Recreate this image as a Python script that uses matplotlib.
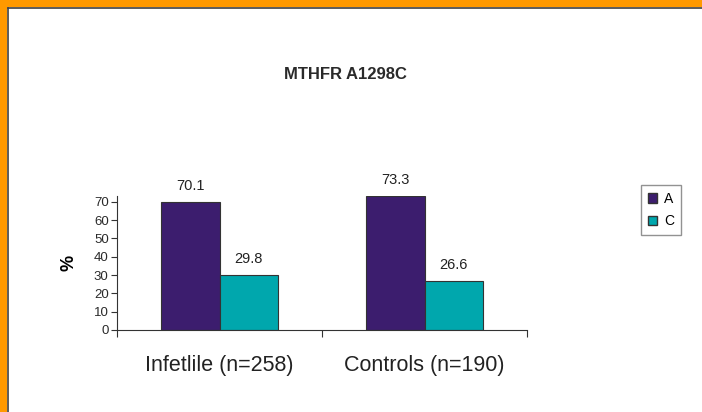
import matplotlib
matplotlib.use('Agg')
import matplotlib.pyplot as plt
from matplotlib.patches import Rectangle, Patch
import numpy as np

plt.rcParams['font.family'] = ['Liberation Sans', 'DejaVu Sans']

grupos = ['Infetlile (n=258)', 'Controls (n=190)']
alelos = ['A', 'C']
valores_A = [70.1, 73.3]
valores_C = [29.8, 26.6]
cores = ['#3c1d6e', '#00a7ad']

fig = plt.figure(figsize=(7.02, 4.12), dpi=100)

# moldura laranja em cima e à esquerda, com linha escura por dentro
fig.patches.append(Rectangle((0, 1 - 7 / 412), 1, 7 / 412, transform=fig.transFigure,
                             facecolor='#ff9900', edgecolor='none', zorder=0))
fig.patches.append(Rectangle((0, 0), 7 / 702, 1, transform=fig.transFigure,
                             facecolor='#ff9900', edgecolor='none', zorder=0))
fig.add_artist(plt.Line2D([7.5 / 702, 1], [1 - 7.5 / 412, 1 - 7.5 / 412],
                          transform=fig.transFigure, color='#404040', lw=1.2))
fig.add_artist(plt.Line2D([7.5 / 702, 7.5 / 702], [0, 1 - 7.5 / 412],
                          transform=fig.transFigure, color='#404040', lw=1.2))

ax = fig.add_axes([117 / 702, 1 - 330 / 412, (527 - 117) / 702, (330 - 196) / 412])

x = np.arange(len(grupos))
largura = 0.285
barras_A = ax.bar(x - largura / 2, valores_A, largura, color=cores[0],
                  edgecolor='#333333', linewidth=0.8, label=alelos[0])
barras_C = ax.bar(x + largura / 2, valores_C, largura, color=cores[1],
                  edgecolor='#333333', linewidth=0.8, label=alelos[1])

for barras in (barras_A, barras_C):
    for b in barras:
        ax.annotate(f'{b.get_height():.1f}', (b.get_x() + b.get_width() / 2, b.get_height()),
                    xytext=(0, 6.5), textcoords='offset points', ha='center', va='bottom',
                    fontsize=10.5, color='#222222')

ax.set_xlim(-0.5, 1.5)
ax.set_ylim(0, 73.2)
ax.set_yticks(range(0, 71, 10))
ax.tick_params(axis='y', labelsize=9.5, length=4, width=0.8, color='#333333',
               labelcolor='#2a2a2a', pad=2)

# marcas do eixo x nas divisões entre grupos, rótulos no centro
ax.set_xticks([-0.5, 0.5, 1.5])
ax.set_xticklabels([])
ax.set_xticks(x, minor=True)
ax.set_xticklabels(grupos, minor=True)
ax.tick_params(axis='x', which='major', length=5, width=0.8, color='#333333', direction='out')
ax.tick_params(axis='x', which='minor', length=0, labelsize=15.5, pad=18, labelcolor='#222222')

for lado in ['top', 'right']:
    ax.spines[lado].set_visible(False)
for lado in ['left', 'bottom']:
    ax.spines[lado].set_color('#333333')
    ax.spines[lado].set_linewidth(0.8)

ax.set_ylabel('%', fontsize=13, fontweight='bold', labelpad=12)

fig.text(345 / 702, 1 - 74.5 / 412, 'MTHFR A1298C', ha='center', va='center',
         fontsize=12, fontweight='bold', color='#2a2a2a')

leg = fig.legend(handles=[Patch(facecolor=cores[0], edgecolor='#333333', label='A'),
                          Patch(facecolor=cores[1], edgecolor='#333333', label='C')],
                 loc='center', bbox_to_anchor=(661 / 702, 1 - 210 / 412),
                 fontsize=10, frameon=True, fancybox=False, handlelength=0.65,
                 handleheight=0.65, handletextpad=0.55, labelspacing=0.6, borderpad=0.5)
leg.get_frame().set_edgecolor('#777777')
leg.get_frame().set_linewidth(1.0)

fig.savefig('out.png', dpi=100)
